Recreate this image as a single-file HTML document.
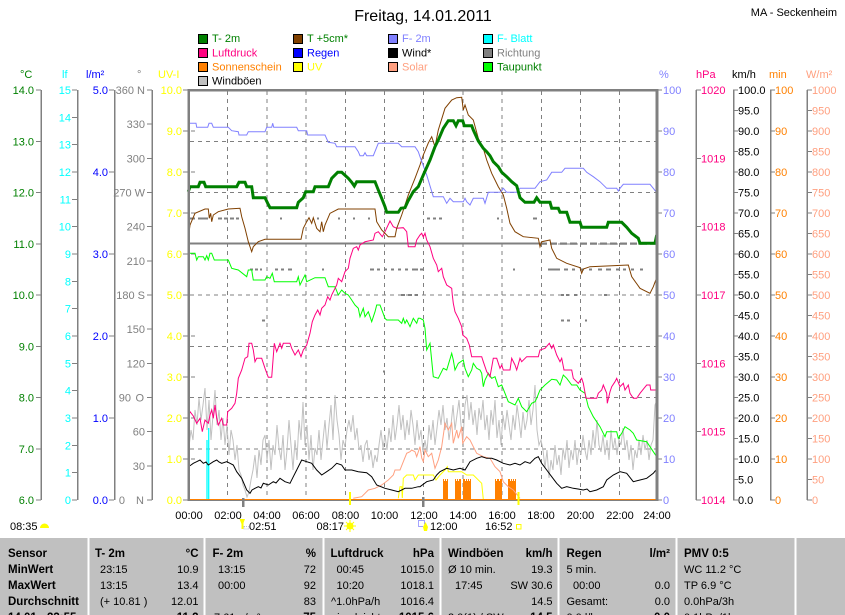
<!DOCTYPE html>
<html><head><meta charset="utf-8"><style>
html,body{margin:0;padding:0;background:#fff;}
svg{display:block;font-family:"Liberation Sans",Arial,sans-serif;}
</style></head><body>
<svg width="845" height="615" viewBox="0 0 845 615" xmlns="http://www.w3.org/2000/svg">
<rect width="845" height="615" fill="#fff"/>
<!-- title -->
<text x="423" y="21" font-size="16" text-anchor="middle" fill="#000">Freitag, 14.01.2011</text>
<text x="837" y="16" font-size="11" text-anchor="end" fill="#000">MA - Seckenheim</text>

<!-- legend -->
<g font-size="11" stroke-width="1">
<rect x="198.5" y="34.5" width="9" height="9" fill="#008000" stroke="#000"/><text x="212" y="42" fill="#008000">T- 2m</text>
<rect x="198.5" y="48.5" width="9" height="9" fill="#ff0080" stroke="#000"/><text x="212" y="56.5" fill="#ff0080">Luftdruck</text>
<rect x="198.5" y="62.5" width="9" height="9" fill="#ff8000" stroke="#000"/><text x="212" y="70.5" fill="#ff8000">Sonnenschein</text>
<rect x="198.5" y="76.5" width="9" height="9" fill="#c0c0c0" stroke="#000"/><text x="212" y="84.5" fill="#000">Windböen</text>
<rect x="293.5" y="34.5" width="9" height="9" fill="#804000" stroke="#000"/><text x="307" y="42" fill="#008000">T +5cm*</text>
<rect x="293.5" y="48.5" width="9" height="9" fill="#0000ff" stroke="#000"/><text x="307" y="56.5" fill="#0000ff">Regen</text>
<rect x="293.5" y="62.5" width="9" height="9" fill="#ffff00" stroke="#000"/><text x="307" y="70.5" fill="#ffff00">UV</text>
<rect x="388.5" y="34.5" width="9" height="9" fill="#8080ff" stroke="#000"/><text x="402" y="42" fill="#8080ff">F- 2m</text>
<rect x="388.5" y="48.5" width="9" height="9" fill="#000" stroke="#000"/><text x="402" y="56.5" fill="#000">Wind*</text>
<rect x="388.5" y="62.5" width="9" height="9" fill="#ffa080" stroke="#000"/><text x="402" y="70.5" fill="#ffa080">Solar</text>
<rect x="483.5" y="34.5" width="9" height="9" fill="#00ffff" stroke="#000"/><text x="497" y="42" fill="#00ffff">F- Blatt</text>
<rect x="483.5" y="48.5" width="9" height="9" fill="#808080" stroke="#000"/><text x="497" y="56.5" fill="#808080">Richtung</text>
<rect x="483.5" y="62.5" width="9" height="9" fill="#00ff00" stroke="#000"/><text x="497" y="70.5" fill="#008000">Taupunkt</text>
</g>

<!-- axis headers -->
<g font-size="11">
<text x="20" y="78" fill="#008000">°C</text>
<text x="62" y="78" fill="#00ffff">lf</text>
<text x="86" y="78" fill="#0000ff">l/m²</text>
<text x="137" y="78" fill="#808080">°</text>
<text x="158" y="78" fill="#ffff00">UV-I</text>
<text x="659" y="78" fill="#8080ff">%</text>
<text x="696" y="78" fill="#ff0080">hPa</text>
<text x="732" y="78" fill="#000">km/h</text>
<text x="769" y="78" fill="#ff8000">min</text>
<text x="806" y="78" fill="#ffa080">W/m²</text>
</g>

<!-- left axes lines -->
<g stroke="#808080" stroke-width="1.5" shape-rendering="crispEdges">
<line x1="41" y1="90" x2="41" y2="500"/>
<line x1="77.5" y1="90" x2="77.5" y2="500"/>
<line x1="114.5" y1="90" x2="114.5" y2="500"/>
<line x1="152" y1="90" x2="152" y2="500"/>
<line x1="696" y1="90" x2="696" y2="500"/>
<line x1="733.5" y1="90" x2="733.5" y2="500"/>
<line x1="770.5" y1="90" x2="770.5" y2="500"/>
<line x1="807" y1="90" x2="807" y2="500"/>
</g>

<!-- ticks -->
<g stroke="#808080" stroke-width="1" shape-rendering="crispEdges">
<path d="M36 90H41M36 141.25H41M36 192.5H41M36 243.75H41M36 295H41M36 346.25H41M36 397.5H41M36 448.75H41M36 500H41"/>
<path d="M72 90H77M72 117.33H77M72 144.67H77M72 172H77M72 199.33H77M72 226.67H77M72 254H77M72 281.33H77M72 308.67H77M72 336H77M72 363.33H77M72 390.67H77M72 418H77M72 445.33H77M72 472.67H77M72 500H77"/>
<path d="M109 90H114M109 172H114M109 254H114M109 336H114M109 418H114M109 500H114"/>
<path d="M147 90H152M147 124.17H152M147 158.33H152M147 192.5H152M147 226.67H152M147 260.83H152M147 295H152M147 329.17H152M147 363.33H152M147 397.5H152M147 431.67H152M147 465.83H152M147 500H152"/>
<path d="M183 90H188M183 131H188M183 172H188M183 213H188M183 254H188M183 295H188M183 336H188M183 377H188M183 418H188M183 459H188M183 500H188"/>
<path d="M191 131H195M191 172H195M191 213H195M191 254H195M191 336H195M191 377H195M191 418H195M191 459H195"/>
<path d="M657 90H662M657 131H662M657 172H662M657 213H662M657 254H662M657 295H662M657 336H662M657 377H662M657 418H662M657 459H662M657 500H662"/>
<path d="M696 90H701M696 158.33H701M696 226.67H701M696 295H701M696 363.33H701M696 431.67H701M696 500H701"/>
<path d="M733 90H738M733 110.5H738M733 131H738M733 151.5H738M733 172H738M733 192.5H738M733 213H738M733 233.5H738M733 254H738M733 274.5H738M733 295H738M733 315.5H738M733 336H738M733 356.5H738M733 377H738M733 397.5H738M733 418H738M733 438.5H738M733 459H738M733 479.5H738M733 500H738"/>
<path d="M770 90H775M770 131H775M770 172H775M770 213H775M770 254H775M770 295H775M770 336H775M770 377H775M770 418H775M770 459H775M770 500H775"/>
<path d="M807 90H812M807 110.5H812M807 131H812M807 151.5H812M807 172H812M807 192.5H812M807 213H812M807 233.5H812M807 254H812M807 274.5H812M807 295H812M807 315.5H812M807 336H812M807 356.5H812M807 377H812M807 397.5H812M807 418H812M807 438.5H812M807 459H812M807 479.5H812M807 500H812"/>
</g>

<!-- left labels -->
<g font-size="11" text-anchor="end">
<g fill="#008000">
<text x="34" y="94">14.0</text><text x="34" y="145.25">13.0</text><text x="34" y="196.5">12.0</text><text x="34" y="247.75">11.0</text><text x="34" y="299">10.0</text><text x="34" y="350.25">9.0</text><text x="34" y="401.5">8.0</text><text x="34" y="452.75">7.0</text><text x="34" y="504">6.0</text>
</g>
<g fill="#00ffff">
<text x="71" y="94">15</text><text x="71" y="121.33">14</text><text x="71" y="148.67">13</text><text x="71" y="176">12</text><text x="71" y="203.33">11</text><text x="71" y="230.67">10</text><text x="71" y="258">9</text><text x="71" y="285.33">8</text><text x="71" y="312.67">7</text><text x="71" y="340">6</text><text x="71" y="367.33">5</text><text x="71" y="394.67">4</text><text x="71" y="422">3</text><text x="71" y="449.33">2</text><text x="71" y="476.67">1</text><text x="71" y="504">0</text>
</g>
<g fill="#0000ff">
<text x="108" y="94">5.0</text><text x="108" y="176">4.0</text><text x="108" y="258">3.0</text><text x="108" y="340">2.0</text><text x="108" y="422">1.0</text><text x="108" y="504">0.0</text>
</g>
<g fill="#808080">
<text x="145" y="94">360 N</text><text x="145" y="128.17">330</text><text x="145" y="162.33">300</text><text x="145" y="196.5">270 W</text><text x="145" y="230.67">240</text><text x="145" y="264.83">210</text><text x="145" y="299">180 S</text><text x="145" y="333.17">150</text><text x="145" y="367.33">120</text><text x="131" y="401.5">90</text><text x="144" y="401.5">O</text><text x="145" y="435.67">60</text><text x="145" y="469.83">30</text><text x="125" y="504">0</text><text x="144" y="504">N</text>
</g>
<g fill="#ffff00">
<text x="182" y="94">10.0</text><text x="182" y="135">9.0</text><text x="182" y="176">8.0</text><text x="182" y="217">7.0</text><text x="182" y="258">6.0</text><text x="182" y="299">5.0</text><text x="182" y="340">4.0</text><text x="182" y="381">3.0</text><text x="182" y="422">2.0</text><text x="182" y="463">1.0</text><text x="182" y="504">0.0</text>
</g>
</g>

<!-- right labels -->
<g font-size="11">
<g fill="#8080ff">
<text x="663" y="94">100</text><text x="663" y="135">90</text><text x="663" y="176">80</text><text x="663" y="217">70</text><text x="663" y="258">60</text><text x="663" y="299">50</text><text x="663" y="340">40</text><text x="663" y="381">30</text><text x="663" y="422">20</text><text x="663" y="463">10</text><text x="663" y="504">0</text>
</g>
<g fill="#ff0080">
<text x="701" y="94">1020</text><text x="701" y="162.33">1019</text><text x="701" y="230.67">1018</text><text x="701" y="299">1017</text><text x="701" y="367.33">1016</text><text x="701" y="435.67">1015</text><text x="701" y="504">1014</text>
</g>
<g fill="#000">
<text x="738" y="94">100.0</text><text x="738" y="114.5">95.0</text><text x="738" y="135">90.0</text><text x="738" y="155.5">85.0</text><text x="738" y="176">80.0</text><text x="738" y="196.5">75.0</text><text x="738" y="217">70.0</text><text x="738" y="237.5">65.0</text><text x="738" y="258">60.0</text><text x="738" y="278.5">55.0</text><text x="738" y="299">50.0</text><text x="738" y="319.5">45.0</text><text x="738" y="340">40.0</text><text x="738" y="360.5">35.0</text><text x="738" y="381">30.0</text><text x="738" y="401.5">25.0</text><text x="738" y="422">20.0</text><text x="738" y="442.5">15.0</text><text x="738" y="463">10.0</text><text x="738" y="483.5">5.0</text><text x="738" y="504">0.0</text>
</g>
<g fill="#ff8000">
<text x="775" y="94">100</text><text x="775" y="135">90</text><text x="775" y="176">80</text><text x="775" y="217">70</text><text x="775" y="258">60</text><text x="775" y="299">50</text><text x="775" y="340">40</text><text x="775" y="381">30</text><text x="775" y="422">20</text><text x="775" y="463">10</text><text x="775" y="504">0</text>
</g>
<g fill="#ffa080">
<text x="812" y="94">1000</text><text x="812" y="114.5">950</text><text x="812" y="135">900</text><text x="812" y="155.5">850</text><text x="812" y="176">800</text><text x="812" y="196.5">750</text><text x="812" y="217">700</text><text x="812" y="237.5">650</text><text x="812" y="258">600</text><text x="812" y="278.5">550</text><text x="812" y="299">500</text><text x="812" y="319.5">450</text><text x="812" y="340">400</text><text x="812" y="360.5">350</text><text x="812" y="381">300</text><text x="812" y="401.5">250</text><text x="812" y="422">200</text><text x="812" y="442.5">150</text><text x="812" y="463">100</text><text x="812" y="483.5">50</text><text x="812" y="504">0</text>
</g>
</g>

<!-- grid -->
<g stroke="#808080" stroke-width="1" stroke-dasharray="4,4" shape-rendering="crispEdges">
<path d="M227.7 91V500M266.9 91V500M306.1 91V500M345.3 91V500M384.5 91V500M423.7 91V500M462.9 91V500M502.1 91V500M541.3 91V500M580.5 91V500M619.7 91V500"/>
<path d="M190 141.25H656M190 192.5H656M190 243.75H656M190 295H656M190 346.25H656M190 397.5H656M190 448.75H656"/>
</g>

<!-- Richtung (wind direction) -->
<g fill="#808080" shape-rendering="crispEdges">
<rect x="189" y="242.5" width="351" height="2.2"/>
<rect x="190" y="217.5" width="5" height="2"/><rect x="198" y="217.5" width="10" height="2"/><rect x="218" y="217.5" width="4" height="2"/><rect x="224" y="217.5" width="4" height="2"/><rect x="230" y="217.5" width="4" height="2"/><rect x="236" y="217.5" width="3" height="2"/><rect x="280" y="217.5" width="2" height="2"/><rect x="317" y="217.5" width="2" height="2"/><rect x="338" y="217.5" width="2" height="2"/><rect x="353" y="217.5" width="2" height="2"/><rect x="368" y="217.5" width="2" height="2"/><rect x="427" y="217.5" width="3" height="2"/><rect x="433" y="217.5" width="3" height="2"/><rect x="439" y="217.5" width="3" height="2"/><rect x="497" y="217.5" width="2" height="2"/><rect x="533" y="217.5" width="4" height="2"/>
<rect x="250" y="268.5" width="3" height="2"/><rect x="255" y="268.5" width="3" height="2"/><rect x="260" y="268.5" width="2" height="2"/><rect x="275" y="268.5" width="3" height="2"/><rect x="281" y="268.5" width="3" height="2"/><rect x="288" y="268.5" width="4" height="2"/><rect x="322" y="268.5" width="2" height="2"/><rect x="370" y="268.5" width="4" height="2"/><rect x="377" y="268.5" width="3" height="2"/><rect x="384" y="268.5" width="3" height="2"/><rect x="391" y="268.5" width="3" height="2"/><rect x="398" y="268.5" width="3" height="2"/><rect x="405" y="268.5" width="3" height="2"/><rect x="412" y="268.5" width="6" height="2"/><rect x="420" y="268.5" width="3" height="2"/><rect x="513" y="268.5" width="2" height="2"/><rect x="548" y="268.5" width="12" height="2"/><rect x="564" y="268.5" width="4" height="2"/><rect x="572" y="268.5" width="3" height="2"/><rect x="580" y="268.5" width="4" height="2"/><rect x="589" y="268.5" width="3" height="2"/><rect x="598" y="268.5" width="4" height="2"/><rect x="606" y="268.5" width="5" height="2"/><rect x="616" y="268.5" width="3" height="2"/><rect x="623" y="268.5" width="3" height="2"/><rect x="631" y="268.5" width="3" height="2"/><rect x="640" y="268.5" width="3" height="2"/>
<rect x="401" y="294" width="4" height="2"/><rect x="408" y="294" width="4" height="2"/><rect x="415" y="294" width="3" height="2"/><rect x="561" y="294" width="3" height="2"/><rect x="566" y="294" width="3" height="2"/><rect x="574" y="294" width="3" height="2"/><rect x="604" y="294" width="3" height="2"/>
<rect x="262" y="319.5" width="3" height="2"/><rect x="561" y="319.5" width="3" height="2"/><rect x="567" y="319.5" width="3" height="2"/><rect x="585" y="319.5" width="2" height="2"/><rect x="383" y="370.5" width="2" height="2"/>
</g>
<line x1="540" y1="243.6" x2="657" y2="243.6" stroke="#808080" stroke-width="2.2" stroke-dasharray="7,3"/>

<!-- Windböen -->
<polyline fill="none" stroke="#c0c0c0" stroke-width="1" points="189,447 191,430 193,440 195,410 197,425 199,398 201,420 203,405 205,388 207,430 209,400 211,440 213,415 215,390 217,425 219,410 221,440 223,418 225,445 227,425 229,455 231,430 233,440 235,460 237,445 239,470 241,475 243,485 245,490 247,497 249,492 251,480 253,470 255,455 257,478 259,450 261,465 263,440 265,435 267,460 269,440 271,470 273,445 275,455 277,425 279,448 281,460 283,435 285,470 287,450 289,420 291,445 293,470 295,440 297,460 299,420 301,440 303,402 305,445 307,425 309,460 311,435 313,470 315,448 317,455 319,430 321,460 323,440 325,420 327,448 329,425 331,405 333,440 335,395 337,420 339,435 341,460 343,440 345,447 347,430 349,420 351,432 353,415 355,440 357,428 359,450 361,445 363,462 365,445 367,440 369,460 371,450 373,468 375,455 377,462 379,445 381,430 383,448 385,435 387,450 389,428 391,442 393,415 395,440 397,425 399,405 401,430 403,415 405,440 407,420 409,435 411,410 413,425 415,445 417,420 419,440 421,430 423,452 425,440 427,452 429,425 431,440 433,420 435,445 437,428 439,410 441,425 443,405 445,430 447,418 449,440 451,425 453,405 455,430 457,415 459,400 461,425 463,440 465,405 467,395 469,420 471,402 473,425 475,410 477,435 479,408 481,420 483,400 485,430 487,415 489,440 491,410 493,425 495,400 497,438 499,420 501,445 503,415 505,430 507,410 509,425 511,440 513,415 515,430 517,405 519,420 521,438 523,412 525,430 527,420 529,400 531,425 533,410 535,385 537,430 539,445 541,440 543,450 545,468 547,450 549,478 551,460 553,470 555,445 557,465 559,455 561,475 563,448 565,460 567,440 569,468 571,450 573,460 575,440 577,465 579,448 581,455 583,435 585,450 587,460 589,440 591,455 593,430 595,448 597,420 599,445 601,452 603,435 605,455 607,440 609,460 611,430 613,450 615,438 617,455 619,440 621,445 623,428 625,450 627,440 629,460 631,445 633,470 635,450 637,458 639,440 641,455 643,435 645,450 647,440 649,460 651,445 653,440 655,405 657,400"/>

<!-- F-Blatt -->
<line x1="207" y1="440" x2="207" y2="500" stroke="#00ffff" stroke-width="1.3"/>
<line x1="208.7" y1="428" x2="208.7" y2="500" stroke="#00ffff" stroke-width="1.3"/>

<!-- Sonnenschein bars -->
<g fill="#ff8000" shape-rendering="crispEdges">
<rect x="443" y="481" width="5" height="19"/><rect x="443" y="479" width="1" height="2"/><rect x="445" y="479" width="1" height="2"/><rect x="447" y="479" width="1" height="2"/>
<rect x="455" y="481" width="6" height="19"/><rect x="455" y="479" width="1" height="2"/><rect x="457" y="479" width="1" height="2"/><rect x="459" y="479" width="2" height="2"/>
<rect x="463" y="481" width="8" height="19"/><rect x="463" y="479" width="2" height="2"/><rect x="466" y="479" width="1" height="2"/><rect x="468" y="479" width="1" height="2"/><rect x="470" y="479" width="1" height="2"/>
<rect x="495" y="481" width="7" height="19"/><rect x="495" y="479" width="1" height="2"/><rect x="497" y="479" width="2" height="2"/><rect x="500" y="479" width="2" height="2"/>
<rect x="508" y="481" width="8" height="19"/><rect x="508" y="479" width="2" height="2"/><rect x="511" y="479" width="1" height="2"/><rect x="513" y="479" width="1" height="2"/><rect x="515" y="479" width="1" height="2"/>
</g>

<!-- Solar -->
<polyline fill="none" stroke="#ffa080" stroke-width="1" points="353.3,498.3 361.7,496.7 368.3,490 375,488.3 381.7,485 388.3,480 393.3,475 395,470 400,470 403.3,461.7 406.7,453.3 410,451.7 411.7,450 415,451.7 416.7,456.7 420,446.7 421.7,458 423.3,461.7 425,450 428.3,456.7 431.7,453.3 435,468.3 438.3,460 441.7,446.7 445,423.3 448.3,430 451.7,423.3 453.3,443.3 456.7,430 458.3,438.3 461.7,426.7 462.7,443.3 466.7,436.7 470,440 473.3,446.7 476.7,453.3 483.3,456.7 490,458.3 495,466.7 500,471.7 503.3,481.7 508.3,486.7 513.3,490 520,498.3"/>

<!-- UV -->
<polyline fill="none" stroke="#ffff00" stroke-width="1" points="398.3,498.3 400,486.7 401.7,486.7 402.3,498 403.3,478.3 406.7,475 413.3,475 415,480 418.3,475 433.3,475 436,480 440,475 445,470 447.3,466.7 448.3,471.7 461.7,471.7 466.7,475 473.3,475 481.7,483.3 483.3,499.3"/>

<!-- Wind -->
<polyline fill="none" stroke="#000" stroke-width="1" points="188.3,466.7 191,465 193.3,463.3 196.7,461.7 200,460 203.3,463.3 206,462 208.3,465 213.3,461.7 216.7,460 219,462 221.7,463.3 226.7,461.7 230,463.3 233.3,465 236.7,471.7 241.7,478.3 246.7,490 250,493.3 252,490 255,488.3 258.3,486.7 261,488 263.3,483.3 268.3,485 273.3,481.7 276,483 280,478.3 285,481.7 290,483.3 293.3,476.7 296.7,470 301.7,460 306.7,461.7 311.7,463.3 316.7,470 321.7,475 326.7,471.7 331.7,468.3 336.7,463.3 341.7,465 345,470 351.7,470 358.3,471.7 366.7,472.7 371.7,476.7 376.7,485 385,488.3 391.7,490 398.3,491.7 405,488.3 411.7,488.3 418.3,486.7 420,486.7 426.7,481.7 433.3,480 436.7,475 440,471.7 446.7,468.3 453.3,470 460,468.3 465,470 470,461.7 476.7,458.3 481.7,456.7 486.7,458.3 491.7,458.3 496.7,460 503.3,463.3 510,465 515,463.3 520,465 525,461.7 530,463.3 535,458.3 538.3,456.7 541.7,463.3 546.7,470 551.7,476.7 556.7,483.3 561.7,488.3 566.7,486.7 573.3,488.3 578,489 583.3,490 587,489 590,491.7 596.7,490 603.3,486.7 606.7,480 613.3,475 620,471.7 626.7,473.3 633.3,481.7 640,480 646.7,478.3 653.3,473.3 656,470"/>

<!-- Taupunkt -->
<polyline fill="none" stroke="#00ff00" stroke-width="1" points="188.3,255 190,253.3 195,253.3 196.7,260 198.3,256.7 203.3,256.7 205,260 206.7,255.7 208.3,260 210,253.3 211.7,253.3 214.3,260 228.3,260 231.7,268.3 238.3,270 246.7,276.7 248.3,270 251.7,270 253.3,280 265,280 266.7,276.7 270,278.3 272.3,273.3 274.3,281.7 296.7,281.7 298.3,276.7 300,285 303.3,278.3 305,275 306.7,281.7 315,277.7 325,277.7 328.3,286.7 335,286.7 338.3,295 341.7,290 345,293.3 348.3,295 351.7,300 355,305 358.3,308.3 360,316.7 363.3,308.3 365,316.7 368.3,311.7 371.7,321.7 375,311.7 376.7,305 380,305 385,318.3 386.7,320 398.3,320 401.7,323.3 403.3,318.3 405,323.3 406.7,320 410,326.7 413.3,318.3 416.7,323.3 418.3,318.3 420,318.3 423.3,320 425,328.3 426.7,350 430,343.3 433.3,376.7 438.3,378.3 443.3,368.3 446.7,370 451.7,353.3 453.3,360 455,370 458.3,363.3 463.3,360 465,368.3 468.3,376.7 471.7,370 473.3,363.3 476.7,368.3 480,370 481.7,373.3 483.3,386.7 485,380 488.3,373.3 491.7,378.3 495,376.7 498.3,386.7 501.7,385 505,393.3 508.3,401.7 515,405 518.3,398.3 521.7,406.7 526.7,411.7 531.7,403.3 535,401.7 536.7,398.3 540,390 545,385 551.7,379.3 556.7,380 560,385 563.3,375 566.7,378.3 571.7,385 576.7,385 580,390 585,393.3 588.3,406.7 593.3,416.7 600,426.7 605,436.7 606.7,431.7 616.7,431.7 618.3,438.3 621.7,433.3 625,426.7 630,430 633.3,433.3 636.7,440 646.7,441.7 650,446.7 653.3,451.7 656.7,456.7"/>

<!-- Luftdruck -->
<polyline fill="none" stroke="#ff0080" stroke-width="1" points="188.3,416.7 190,411.7 193.3,416 196.7,423.3 200,418.3 202.3,431.7 205,420 208.3,423.3 210,415 211.7,410 213.3,418.3 215,405 216.7,418.3 218.3,425 221.7,418.3 223.3,425 226.7,425 227.7,411.7 231.7,408.3 235,403.3 236.7,393.3 238.3,378.3 241.7,370 245,358.3 247.7,356.7 249,343.3 251.7,343.3 253.3,350 255,361.7 256.7,358.3 261.7,358.3 265,368.3 268.3,377.3 271.7,377.3 274.3,343.3 276.7,351.7 280,343.3 281.7,348.3 283.3,343.3 290,343.3 291.7,348.3 295,355 298.3,350 301,356.7 303.3,350 306.7,345 310,333.3 312.3,321.7 315,315 317.7,310 320,315 321.7,308.3 325,305 327.7,296.7 330,300 331.7,295 336.7,285 338.3,278.3 341.7,281.7 345,271.7 348.3,268.3 350,258.3 353.3,248.3 356.7,246.7 358.3,250 360,245 365,241.7 373.3,240 375,233.3 378.3,231.7 382.3,236.7 385,231.7 390,221 393.3,226.7 396.7,228.3 403.3,227.7 406.7,231.7 408.3,246.7 415,246.7 416.7,240 420,235 421.7,233.3 423.3,237 425,233.3 426.7,240 430,246.7 433.3,258.3 436.7,265 438.3,271.7 441.7,268.3 443.3,276.7 446.7,285 451.7,288.3 452.3,295 453.3,303.3 455,311.7 458.3,318.3 461.7,326.7 462.7,335 466.7,338.3 469.3,345 471.7,356.7 481.7,356.7 483.3,361.7 486.7,371.7 490,376.7 493.3,358.3 496.7,358.3 500,368.3 501.7,365 503.3,370 510,370 511.7,358.3 515,365 516.7,370 520,358.3 521.7,361.7 526.7,356.7 538.3,356.7 540,350 545,348.3 549.3,343.3 551.7,348.3 553.3,345 556.7,355 560,361.7 561.7,358.3 564,370 571.7,370 573.3,378.3 578.3,383.3 581.7,378.3 583.3,383.3 586,398.3 596.7,398.3 598.3,393.3 601.7,390 603.3,385 606.7,393.3 607.3,403.3 610,391.7 611.7,386.7 615,381.7 616.7,378.3 620,386.7 623.3,383.3 625,390 628.3,385 630,393.3 633.3,398.3 636.7,398.3 640,393.3 644,388.3 646.7,385 650,385 650.7,390 656,390"/>

<!-- T +5cm -->
<polyline fill="none" stroke="#804000" stroke-width="1" points="188.3,238.3 190,225 195,213.3 205,209 208.3,209 209.3,218.3 210.7,213.3 211.7,221.7 213.3,215 218.3,211.7 228.3,209 240,208.3 241.7,216.7 245,228.3 248.3,241.7 251.7,251.7 253.3,246.7 258.3,241.7 265,239.3 301,239.3 303.3,228.3 306.7,221.7 309,217.7 311.7,223.3 313.3,217.7 316.7,228.3 320,231.7 321.7,221.7 323.3,231.7 325,225 330,213.3 338.3,209 375,209 376.7,221.7 381.7,230 388.3,236.7 395,236.7 396.7,228.3 401.7,215 408.3,195 415,178.3 420,165 423.3,155 428.3,143 431.7,136.7 435,146.7 438.3,130 445,108.3 451.7,100 456.7,97.7 461.7,97.3 463.3,110 465,105 468.3,115 473.3,120 478.3,138.3 483.3,148.3 486.7,160 491.7,173.3 498.3,186.7 503.3,195 506.7,208.3 510,223.3 515,231.7 523.3,236.7 538.3,238.3 540,246.7 541.7,241.7 550,240 551.7,248.3 556.7,258.3 566.7,263.3 580,267.7 581.7,273.3 583.3,269 590,266.7 628.3,265 631.7,276.7 640,288.3 650,293.3 653.3,286.7 656.7,277.7"/>

<!-- F-2m -->
<polyline fill="none" stroke="#8080ff" stroke-width="1" points="188.3,123.3 196,123.3 196.7,127.3 207.7,127.3 209,123.3 211.7,123.3 213.3,127.3 228.3,127.3 231.7,130.7 238.3,131.7 239,135 246.7,135 248.3,131.7 265,131.7 266.7,127.3 271.7,127.3 272.7,123.3 273.7,127.3 296.7,127.3 298.3,130.7 306.7,130.7 307.7,135 325,135 328.3,142.3 335,143.3 336.7,146.7 355,146.7 358.3,151.7 360,155.7 363.3,155.7 365,152.7 366.7,155.7 373.3,155.7 378.3,143.3 398.3,143.3 401.7,146.7 415,146.7 418.3,151.7 420,156.7 426.7,175 433.3,196.7 443.3,196.7 446.7,203.3 450,198.3 453.3,201.7 463.3,201.7 465,198.3 466.7,201.7 470,205 473.3,198.3 483.3,198.3 485,203.3 488.3,192.3 500,192.3 503.3,188.3 506.7,192.3 516.7,192.3 520,188.3 535,188.3 540,181.7 546.7,180 551.7,172.3 561.7,172.3 565,168.3 583.3,168.3 586.7,172.3 593.3,176.7 600,181.7 606.7,188.3 616.7,188.3 618.3,191 620,188.3 623.3,184.3 650,184.3 653.3,188.3 656,191.7"/>

<!-- T-2m -->
<polyline fill="none" stroke="#008000" stroke-width="3" stroke-linejoin="miter" points="188.3,191.7 190,186.7 198.3,186.7 200,182.3 204,182.3 205.7,186.7 236.7,186.7 239,182.3 245,182.3 246.7,186.7 251.7,186.7 253.3,197.7 265,197.7 267.7,203.3 270,207.7 296.7,207.7 298.3,202.3 303.3,197.7 305.7,191.7 313.3,191.7 315,186.7 328.3,186.7 331.7,178.3 337.7,172.3 341.7,172.3 348.3,178.3 351.7,182.3 354.3,186 356.7,181.7 375,181.7 378.3,190 381.7,198.3 385,206.7 386.7,212.3 398.3,212.3 401,208.3 405,207.7 407.7,201.7 413.3,191.7 418.3,186.7 423.3,175 430,160 435,146.7 438.3,140 443.3,128.3 448.3,120.7 453.3,120.7 456,125.7 458.3,120.7 462.7,120.7 464.3,125.7 471.7,125.7 473.3,130 478.3,141 483.3,148.3 486.7,151.7 490,155.7 493.3,161.7 498.3,166.7 501.7,172.3 506.7,176.7 511.7,181.7 516.7,185.7 520,197.7 525,202.3 534,202.3 536.7,197.7 540,202.3 550,202.3 551.7,208.3 558.3,208.3 560,212.3 566.7,212.3 570,222.3 580,222.3 581.7,227.3 606.7,227.3 608.3,222.3 621.7,222.3 626.7,227.3 631.7,233.3 638.3,238.3 640,243.3 655,243.3 656.7,235"/>

<!-- bottom baseline -->
<line x1="189" y1="500.5" x2="657" y2="500.5" stroke="#808080" stroke-width="1"/>
<line x1="189" y1="499.5" x2="657" y2="499.5" stroke="#ff8000" stroke-width="1"/>

<!-- frame -->
<g fill="#808080" shape-rendering="crispEdges">
<rect x="188" y="89" width="470" height="2.5"/>
<rect x="187.5" y="89" width="2.5" height="412"/>
<rect x="655.5" y="89" width="3" height="412"/>
</g>

<!-- bottom markers -->
<g shape-rendering="crispEdges">
<rect x="242" y="498" width="2.5" height="9" fill="#808080"/>
<rect x="422" y="497" width="2.5" height="10" fill="#808080"/>
<rect x="349" y="492" width="2" height="13" fill="#ffff00"/>
<rect x="517.5" y="492" width="2" height="13" fill="#ffff00"/>
</g>

<!-- x labels -->
<g font-size="11" text-anchor="middle" fill="#000">
<text x="189" y="519">00:00</text><text x="228" y="519">02:00</text><text x="267" y="519">04:00</text><text x="306" y="519">06:00</text><text x="345.5" y="519">08:00</text><text x="384.5" y="519">10:00</text><text x="424" y="519">12:00</text><text x="463" y="519">14:00</text><text x="502" y="519">16:00</text><text x="541" y="519">18:00</text><text x="580.5" y="519">20:00</text><text x="620" y="519">22:00</text><text x="657" y="519">24:00</text>
</g>
<g font-size="11" fill="#000">
<text x="10" y="530">08:35</text>
<text x="249" y="530">02:51</text>
<text x="316.5" y="530">08:17</text>
<text x="430" y="530">12:00</text>
<text x="485" y="530">16:52</text>
</g>
<!-- icons -->
<path d="M40 528 A4.5 4.5 0 0 1 49 528 Z" fill="#ffff00"/>
<path d="M239.5 519 L245 519 L242.3 526 Z" fill="#ffff00"/>
<rect x="241.5" y="523" width="2" height="6" fill="#ffff00"/>
<rect x="244" y="526.5" width="5" height="2.5" fill="none" stroke="#8080c0" stroke-width="0.6" stroke-dasharray="1,1"/>
<circle cx="350" cy="526" r="3.5" fill="#ffff00"/>
<g stroke="#ffff00" stroke-width="1"><line x1="344" y1="526" x2="356" y2="526"/><line x1="350" y1="520" x2="350" y2="532"/><line x1="346" y1="522" x2="354" y2="530"/><line x1="354" y1="522" x2="346" y2="530"/></g>
<rect x="418.5" y="520.5" width="6" height="6" fill="none" stroke="#0000ff" stroke-width="0.7" stroke-dasharray="1,1"/>
<path d="M425.5 522 L428 527 L427 531 L424 531 L423 527 Z" fill="#ffff00"/>
<rect x="516.5" y="524.5" width="4.5" height="4.5" fill="none" stroke="#ffff00" stroke-width="1"/>

<!-- table -->
<rect x="0" y="538" width="845" height="77" fill="#c0c0c0"/>
<g fill="#fff" shape-rendering="crispEdges">
<rect x="87.5" y="538" width="2" height="77"/>
<rect x="203.5" y="538" width="2" height="77"/>
<rect x="322.5" y="538" width="2" height="77"/>
<rect x="439.5" y="538" width="2" height="77"/>
<rect x="557.5" y="538" width="2" height="77"/>
<rect x="675.5" y="538" width="2" height="77"/>
<rect x="794.5" y="538" width="2" height="77"/>
</g>
<g font-size="11.5" font-weight="bold" fill="#000">
<text x="8" y="557">Sensor</text><text x="8" y="573">MinWert</text><text x="8" y="589">MaxWert</text><text x="8" y="605">Durchschnitt</text><text x="8" y="621">14.01 - 23:55</text>
<text x="95" y="557">T- 2m</text><text x="198.5" y="557" text-anchor="end">°C</text>
<text x="212.5" y="557">F- 2m</text><text x="316" y="557" text-anchor="end">%</text>
<text x="330.5" y="557">Luftdruck</text><text x="434" y="557" text-anchor="end">hPa</text>
<text x="448" y="557">Windböen</text><text x="552.5" y="557" text-anchor="end">km/h</text>
<text x="566.5" y="557">Regen</text><text x="670" y="557" text-anchor="end">l/m²</text>
<text x="684" y="557">PMV 0:5</text>
<text x="198.5" y="621" text-anchor="end">11.2</text><text x="316" y="621" text-anchor="end">75</text><text x="434" y="621" text-anchor="end">1015.6</text><text x="552.5" y="621" text-anchor="end">14.5</text><text x="670" y="621" text-anchor="end">0.0</text>
</g>
<g font-size="11" fill="#000">
<text x="100" y="573">23:15</text><text x="198.5" y="573" text-anchor="end">10.9</text>
<text x="100" y="589">13:15</text><text x="198.5" y="589" text-anchor="end">13.4</text>
<text x="100" y="605">(+ 10.81 )</text><text x="198.5" y="605" text-anchor="end">12.01</text>
<text x="218" y="573">13:15</text><text x="316" y="573" text-anchor="end">72</text>
<text x="218" y="589">00:00</text><text x="316" y="589" text-anchor="end">92</text>
<text x="316" y="605" text-anchor="end">83</text>
<text x="214" y="621">7.61 g/m³</text>
<text x="336.5" y="573">00:45</text><text x="434" y="573" text-anchor="end">1015.0</text>
<text x="336.5" y="589">10:20</text><text x="434" y="589" text-anchor="end">1018.1</text>
<text x="331" y="605">^1.0hPa/h</text><text x="434" y="605" text-anchor="end">1016.4</text>
<text x="331" y="621">ging leicht</text>
<text x="448" y="573">Ø 10 min.</text><text x="552.5" y="573" text-anchor="end">19.3</text>
<text x="455" y="589">17:45</text><text x="552.5" y="589" text-anchor="end">SW 30.6</text>
<text x="552.5" y="605" text-anchor="end">14.5</text>
<text x="448" y="621">3.0(1) / SW</text>
<text x="566.5" y="573">5 min.</text>
<text x="573" y="589">00:00</text><text x="670" y="589" text-anchor="end">0.0</text>
<text x="566.5" y="605">Gesamt:</text><text x="670" y="605" text-anchor="end">0.0</text>
<text x="566.5" y="621">0.0 l/h</text>
<text x="684" y="573">WC 11.2 °C</text>
<text x="684" y="589">TP 6.9 °C</text>
<text x="684" y="605">0.0hPa/3h</text>
<text x="684" y="621">0.1hPa/1h</text>
</g>
</svg>
</body></html>
